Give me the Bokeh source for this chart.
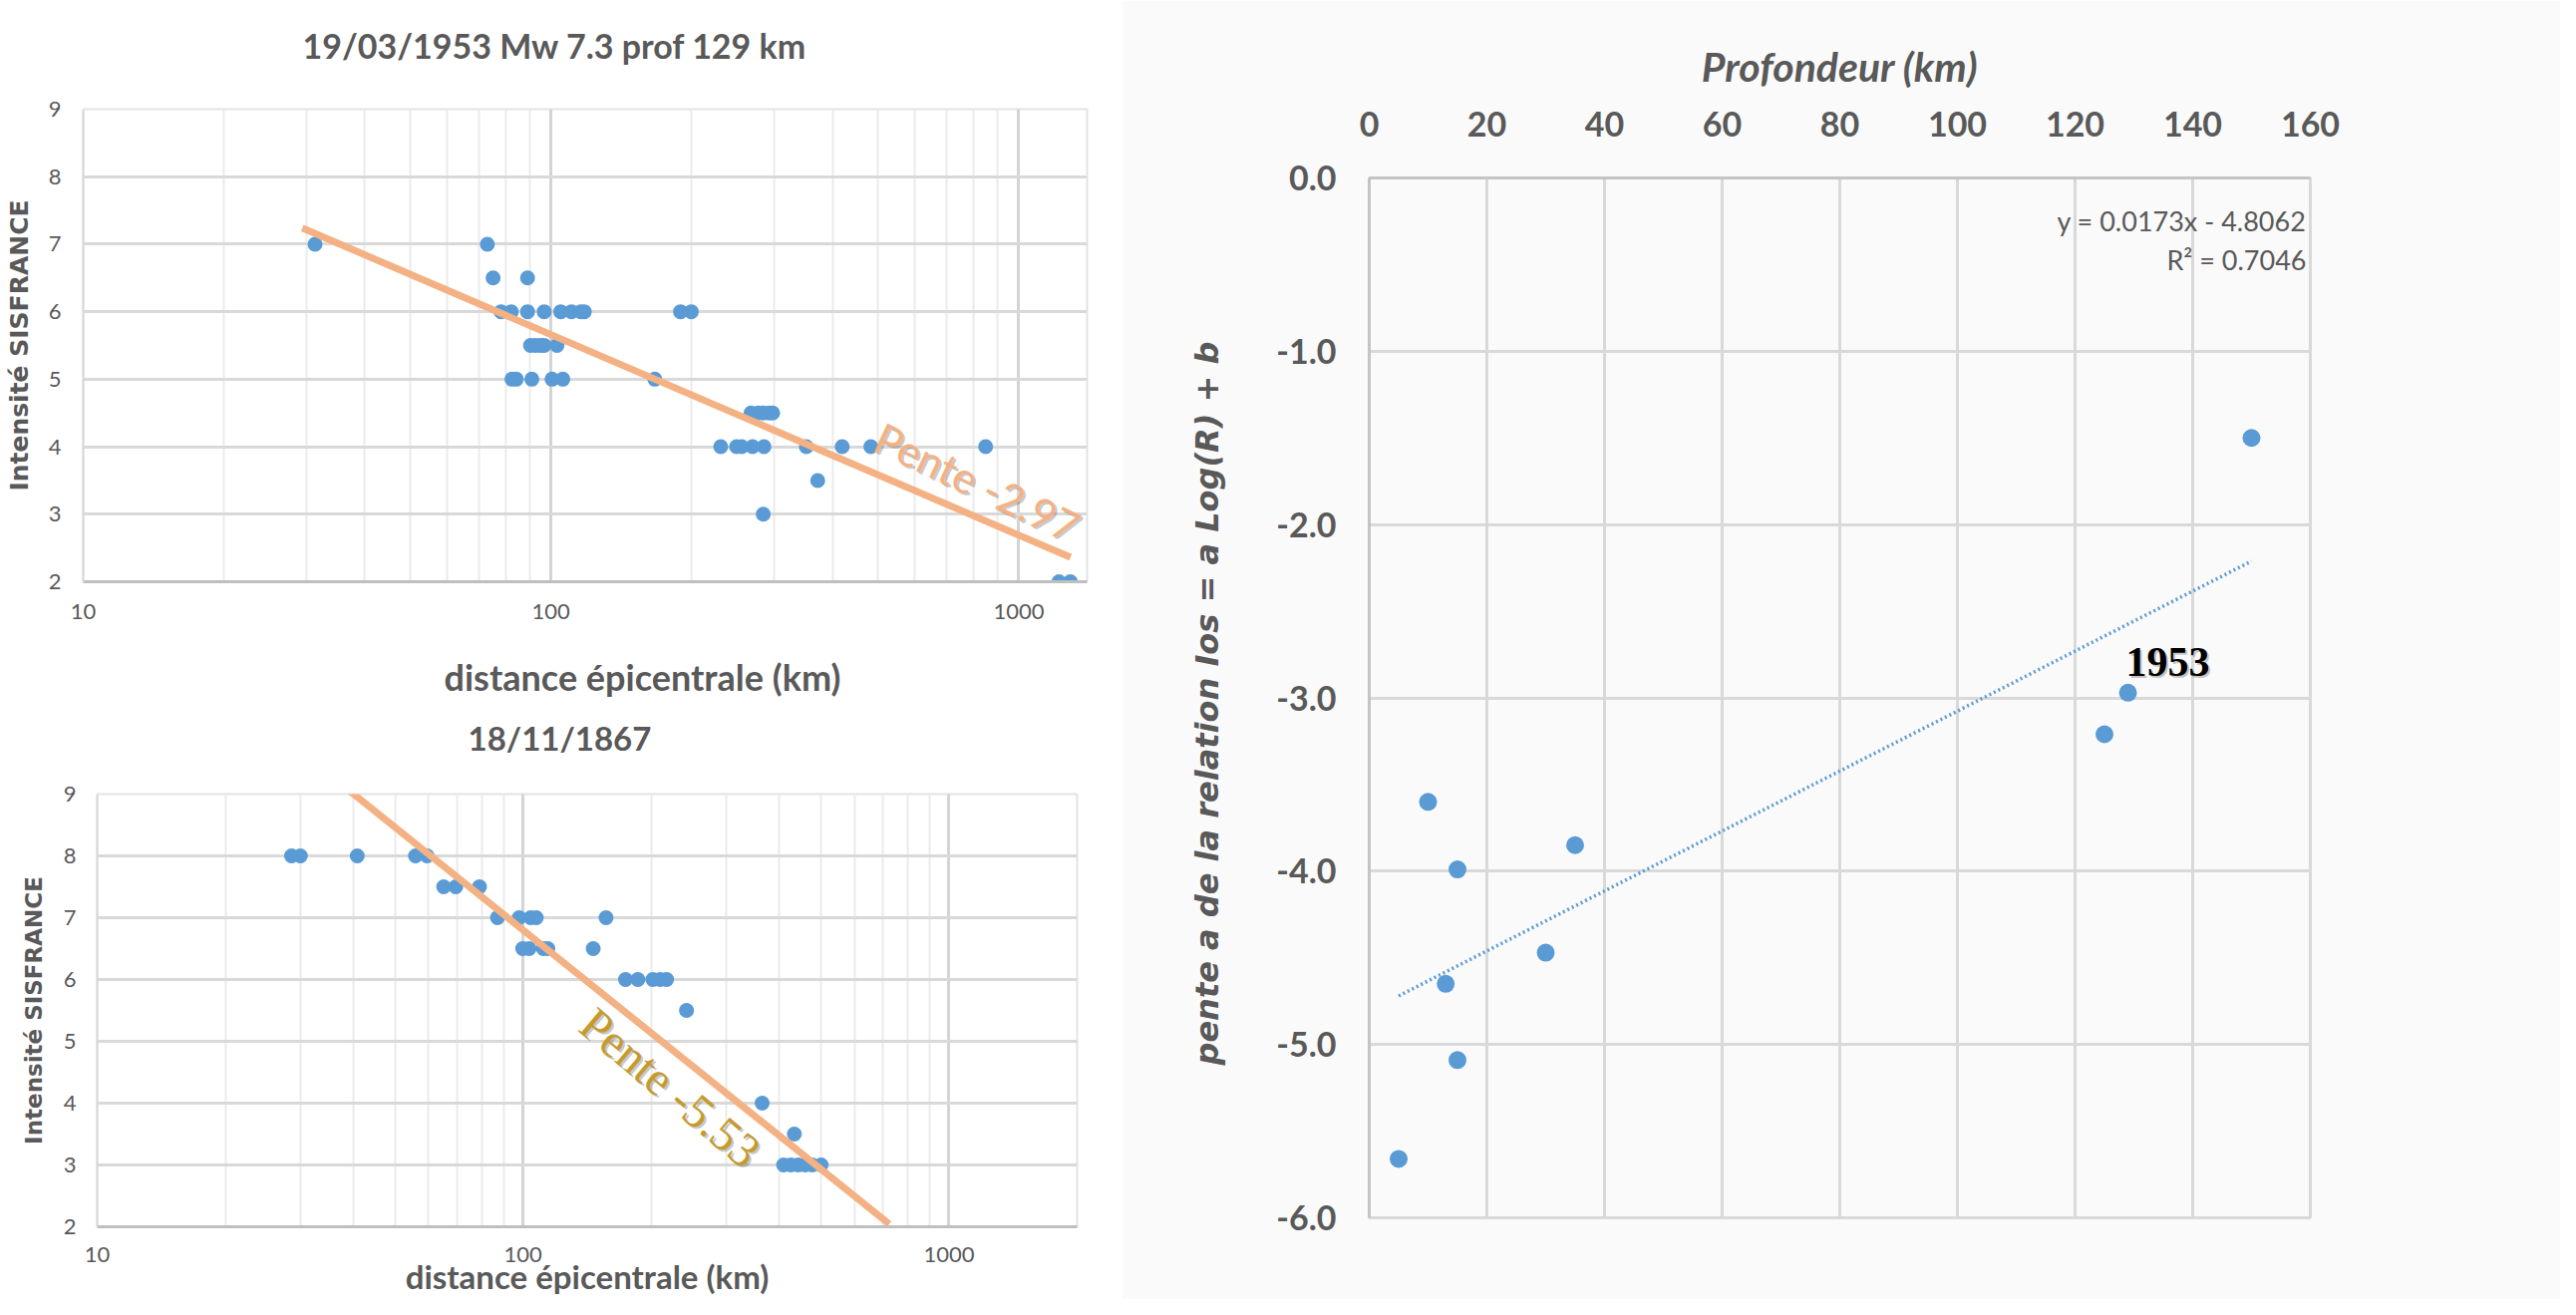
import numpy as np
from bokeh.plotting import figure
from bokeh.models import (Range1d, FixedTicker, PrintfTickFormatter, Label, Title,
                          LogAxis)
from bokeh.layouts import row, column
from bokeh.embed import file_html
from bokeh.resources import INLINE

# ---------------- data: 19/03/1953 (distance km, intensity) ----------------
dist_1953 = [31.3, 73.1,
             75.2, 89.1,
             78.2, 82.2, 89.1, 96.7, 104.9, 110.6, 115.8, 117.8, 189.2, 199.5,
             90.4, 92.7, 95.0, 96.7, 103.0,
             82.5, 84.3, 91.0, 100.5, 106.0, 166.7,
             267.6, 277.3, 284.3, 292.6, 297.8,
             230.6, 249.3, 255.6, 269.7, 285.3, 351.4, 419.3, 482.7, 849.6,
             371.7, 284.3, 1219, 1289]
int_1953 = [7, 7,
            6.5, 6.5,
            6, 6, 6, 6, 6, 6, 6, 6, 6, 6,
            5.5, 5.5, 5.5, 5.5, 5.5,
            5, 5, 5, 5, 5, 5,
            4.5, 4.5, 4.5, 4.5, 4.5,
            4, 4, 4, 4, 4, 4, 4, 4, 4,
            3.5, 3, 2, 2]
slope_1953 = -2.97
intercept_1953 = 11.60
trend_x_1953 = [29.4, 1290]

# ---------------- data: 18/11/1867 ----------------
dist_1867 = [28.6, 30.0, 40.8, 55.9, 59.5,
             65.1, 69.5, 79.0,
             87.1, 97.9, 104.2, 107.4, 156.6,
             99.8, 103.3, 111.6, 114.3, 146.1,
             174.0, 186.0, 201.7, 209.8, 217.3,
             242.0, 364.2, 433.5,
             409, 425.5, 442.5, 459.5, 477.5, 501]
int_1867 = [8, 8, 8, 8, 8,
            7.5, 7.5, 7.5,
            7, 7, 7, 7, 7,
            6.5, 6.5, 6.5, 6.5, 6.5,
            6, 6, 6, 6, 6,
            5.5, 4, 3.5,
            3, 3, 3, 3, 3, 3]
slope_1867 = -5.53
intercept_1867 = 17.86
trend_x_1867 = [38.2, 724]

# ---------------- data: depth vs slope ----------------
depth = [150, 129, 125, 10, 35, 15, 30, 13, 15, 5]
pente = [-1.50, -2.97, -3.21, -3.60, -3.85, -3.99, -4.47, -4.65, -5.09, -5.66]
fit_a = 0.0173
fit_b = -4.8062

log_major = [10, 100, 1000]
log_minor = [20, 30, 40, 50, 60, 70, 80, 90, 200, 300, 400, 500, 600, 700, 800, 900, 2000]
int_ticks = [2, 3, 4, 5, 6, 7, 8, 9]
depth_ticks = [0, 20, 40, 60, 80, 100, 120, 140, 160]
pente_ticks = [0, -1, -2, -3, -4, -5, -6]

BLUE = "#5B9BD5"
ORANGE = "#F4B183"
GRAY_TXT = "#595959"
CAL = "Lato"
WIDE = "DejaVu Sans"


def txt(p, sx, sy, text, size, color, font=CAL, style="normal", angle=0,
        shadow=False, align="center"):
    if shadow:
        p.add_layout(Label(x=sx + 2, y=sy - 2, x_units="screen", y_units="screen",
                           text=text, text_font=font, text_font_size=size,
                           text_font_style=style, text_color="#404040", text_alpha=0.3,
                           text_align=align, text_baseline="middle",
                           angle=angle, angle_units="deg"))
    p.add_layout(Label(x=sx, y=sy, x_units="screen", y_units="screen",
                       text=text, text_font=font, text_font_size=size,
                       text_font_style=style, text_color=color,
                       text_align=align, text_baseline="middle",
                       angle=angle, angle_units="deg"))


def spacer_axis(p, gap, side):
    # empty axis that only reserves a gap between the frame side and a title
    ax = LogAxis(ticker=FixedTicker(ticks=[10]), formatter=PrintfTickFormatter(format=""),
                 major_tick_out=gap, major_tick_in=0, major_tick_line_color="white",
                 minor_tick_line_color=None, axis_line_color=None,
                 major_label_text_font_size="0px", major_label_standoff=0)
    p.add_layout(ax, side)


def side_title(p, text, side, offset, standoff, size, valign):
    p.add_layout(Title(text=text, align="left", offset=offset, standoff=standoff,
                       vertical_align=valign, text_font=CAL, text_font_size=size,
                       text_font_style="bold", text_color=GRAY_TXT), side)


def log_chart(width, height, xmax, borders, xs, ys, tx, a, b, lstand_y, lstand_x,
              ylab_size, ylab_stand):
    p = figure(width=width, height=height, x_axis_type="log",
               x_range=Range1d(10, xmax), y_range=Range1d(2, 9),
               output_backend="svg", toolbar_location=None, title=None,
               min_border_left=borders[0], min_border_right=borders[1],
               min_border_top=borders[2], min_border_bottom=borders[3])
    p.background_fill_color = "white"
    p.border_fill_color = "white"
    p.outline_line_color = "#e3e3e3"
    p.outline_line_width = 2
    xa = p.below[0]
    ya = p.left[0]
    xa.ticker = FixedTicker(ticks=log_major, minor_ticks=log_minor)
    xa.formatter = PrintfTickFormatter(format="%d")
    ya.ticker = FixedTicker(ticks=int_ticks)
    for ax in (xa, ya):
        ax.major_tick_line_color = None
        ax.minor_tick_line_color = None
        ax.major_tick_out = 0
        ax.major_tick_in = 0
        ax.major_label_text_font = CAL
        ax.major_label_text_font_size = "22px"
        ax.major_label_text_color = GRAY_TXT
        ax.axis_label_text_color = GRAY_TXT
        ax.axis_label_text_font_style = "bold"
    ya.major_label_standoff = lstand_y
    xa.major_label_standoff = lstand_x
    ya.axis_label = "Intensité SISFRANCE"
    ya.axis_label_text_font = WIDE
    ya.axis_label_text_font_size = ylab_size
    ya.axis_label_standoff = ylab_stand
    xa.axis_line_color = "#bfbfbf"
    xa.axis_line_width = 3
    ya.axis_line_color = "#d9d9d9"
    ya.axis_line_width = 2
    p.xgrid.grid_line_color = "#d4d4d4"
    p.xgrid.grid_line_width = 3
    p.xgrid.minor_grid_line_color = "#ebebeb"
    p.xgrid.minor_grid_line_width = 2
    p.ygrid.grid_line_color = "#d9d9d9"
    p.ygrid.grid_line_width = 3
    p.scatter(xs, ys, size=15, color=BLUE, line_color=None)
    tyy = [b + a * np.log10(v) for v in tx]
    p.line(tx, tyy, line_color=ORANGE, line_width=7)
    return p


# ---------------- top-left chart ----------------
f1 = log_chart(1107, 715, 1400, (83, 17, 109, 132), dist_1953, int_1953,
               trend_x_1953, slope_1953, intercept_1953, 22, 18, "25px", 12)
spacer_axis(f1, 44, "above")
side_title(f1, "19/03/1953 Mw 7.3 prof 129 km", "above", 220, 0, "34px", "bottom")
spacer_axis(f1, 33, "below")
side_title(f1, "distance épicentrale (km)", "below", 362, 0, "36px", "top")
txt(f1, 897, 100, "Pente -2.97", "43px", ORANGE, angle=-25.4, shadow=True)

# ---------------- bottom-left chart ----------------
f2 = log_chart(1125, 588, 2000, (97, 45, 81, 73), dist_1867, int_1867,
               trend_x_1867, slope_1867, intercept_1867, 21, 16, "23px", 14)
f2x = f2.below[0]
f2x.axis_label = "distance épicentrale (km)"
f2x.axis_label_text_font = CAL
f2x.axis_label_text_font_size = "33px"
f2x.axis_label_standoff = -9
spacer_axis(f2, 37, "above")
side_title(f2, "18/11/1867", "above", 372, 0, "33px", "bottom")
txt(f2, 575, 140, "Pente -5.53", "48px", "#C59B30", font="Liberation Serif",
    angle=-40, shadow=True)

# ---------------- right chart ----------------
f3 = figure(width=1443, height=1303, x_range=Range1d(0, 160), y_range=Range1d(-6, 0),
            x_axis_location="above", output_backend="svg", toolbar_location=None,
            min_border_left=248, min_border_right=251, min_border_top=178,
            min_border_bottom=82)
f3.background_fill_color = "#fafafa"
f3.border_fill_color = "#fafafa"
f3.outline_line_color = "#d9d9d9"
f3.outline_line_width = 3
f3.xaxis.ticker = FixedTicker(ticks=depth_ticks)
f3.yaxis.ticker = FixedTicker(ticks=pente_ticks)
f3.yaxis.formatter = PrintfTickFormatter(format="%.1f")
for ax in (f3.xaxis, f3.yaxis):
    ax.major_tick_line_color = None
    ax.minor_tick_line_color = None
    ax.major_tick_out = 0
    ax.major_tick_in = 0
    ax.major_label_text_font = CAL
    ax.major_label_text_font_size = "34px"
    ax.major_label_text_font_style = "bold"
    ax.major_label_text_color = GRAY_TXT
    ax.axis_line_color = "#c4c4c4"
    ax.axis_line_width = 3
    ax.axis_label_text_color = GRAY_TXT
    ax.axis_label_text_font_style = "bold italic"
f3.yaxis.major_label_standoff = 33
f3.xaxis.major_label_standoff = 42
f3.xaxis.axis_label = "Profondeur (km)"
f3.xaxis.axis_label_text_font = CAL
f3.xaxis.axis_label_text_font_size = "41px"
f3.xaxis.axis_label_standoff = 18
f3.yaxis.axis_label = "pente a  de la relation Ios = a Log(R) + b"
f3.yaxis.axis_label_text_font = WIDE
f3.yaxis.axis_label_text_font_size = "32px"
f3.yaxis.axis_label_standoff = 47
f3.grid.grid_line_color = "#d9d9d9"
f3.grid.grid_line_width = 3

fit_x = [min(depth), max(depth)]
fit_y = [fit_a * v + fit_b for v in fit_x]
f3.line(fit_x, fit_y, line_color=BLUE, line_width=3.5, line_dash="2 3")
f3.scatter(depth, pente, size=18, color=BLUE, line_color=None)

txt(f3, 940, 1000, "y = 0.0173x - 4.8062", "27px", GRAY_TXT, align="right")
txt(f3, 940, 961, "R² = 0.7046", "27px", GRAY_TXT, align="right")
txt(f3, 801, 558, "1953", "42px", "black", font="Liberation Serif", style="bold",
    shadow=True)

layout = row(column(row(f1), row(f2)), f3)
open("out.html", "w").write(file_html(layout, INLINE, title="Intensité SISFRANCE"))
